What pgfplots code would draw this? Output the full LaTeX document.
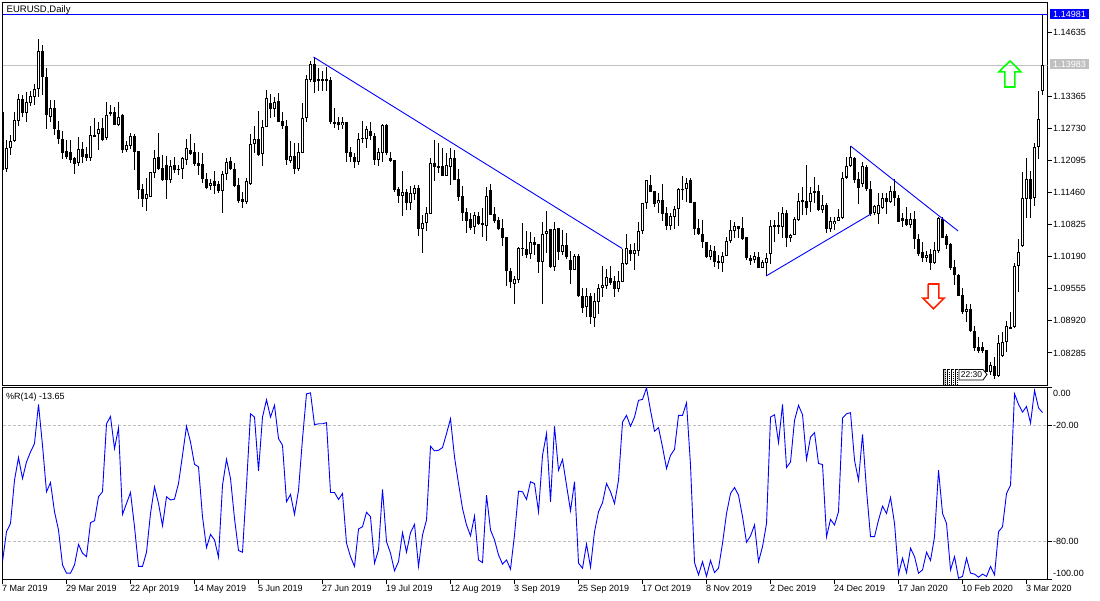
\documentclass[border=0pt]{standalone}
\usepackage{fontspec}
\setmainfont{Liberation Sans}
\usepackage{pgfplots}
\usepackage{pgfplotstable}
\pgfplotsset{compat=1.18}

\definecolor{mtblue}{RGB}{0,0,255}
\definecolor{mtgray}{RGB}{192,192,192}
\definecolor{mtgreen}{RGB}{0,255,0}
\definecolor{mtred}{RGB}{255,32,0}

% daily candles
\pgfplotstableread{
i o h l c
0 1.1306 1.1306 1.1191 1.1191
1 1.1193 1.1250 1.1186 1.1234
2 1.1235 1.1260 1.1221 1.1249
3 1.1248 1.1305 1.1247 1.1290
4 1.1288 1.1341 1.1277 1.1331
5 1.1331 1.1339 1.1296 1.1303
6 1.1303 1.1346 1.1285 1.1325
7 1.1324 1.1347 1.1318 1.1337
8 1.1336 1.1362 1.1320 1.1351
9 1.1351 1.1450 1.1336 1.1426
10 1.1426 1.1438 1.1339 1.1374
11 1.1374 1.1392 1.1272 1.1300
12 1.1295 1.1329 1.1285 1.1313
13 1.1313 1.1329 1.1261 1.1271
14 1.1271 1.1288 1.1242 1.1252
15 1.1252 1.1267 1.1212 1.1225
16 1.1228 1.1250 1.1212 1.1217
17 1.1226 1.1250 1.1204 1.1211
18 1.1214 1.1217 1.1183 1.1203
19 1.1204 1.1256 1.1199 1.1232
20 1.1232 1.1247 1.1204 1.1217
21 1.1223 1.1237 1.1209 1.1215
22 1.1214 1.1277 1.1209 1.1261
23 1.1261 1.1293 1.1256 1.1257
24 1.1263 1.1286 1.1230 1.1273
25 1.1275 1.1293 1.1248 1.1250
26 1.1255 1.1325 1.1250 1.1299
27 1.1305 1.1320 1.1298 1.1302
28 1.1305 1.1315 1.1280 1.1280
29 1.1280 1.1325 1.1278 1.1295
30 1.1300 1.1301 1.1225 1.1230
31 1.1230 1.1248 1.1227 1.1240
32 1.1239 1.1265 1.1232 1.1258
33 1.1259 1.1263 1.1191 1.1227
34 1.1228 1.1228 1.1133 1.1151
35 1.1153 1.1163 1.1118 1.1133
36 1.1133 1.1176 1.1110 1.1143
37 1.1138 1.1186 1.1138 1.1186
38 1.1184 1.1230 1.1174 1.1214
39 1.1216 1.1265 1.1191 1.1193
40 1.1194 1.1221 1.1170 1.1171
41 1.1201 1.1219 1.1133 1.1171
42 1.1171 1.1211 1.1166 1.1199
43 1.1200 1.1217 1.1184 1.1191
44 1.1192 1.1201 1.1181 1.1192
45 1.1192 1.1217 1.1173 1.1214
46 1.1211 1.1252 1.1201 1.1234
47 1.1230 1.1263 1.1221 1.1222
48 1.1226 1.1244 1.1199 1.1203
49 1.1204 1.1226 1.1181 1.1199
50 1.1203 1.1224 1.1166 1.1174
51 1.1173 1.1184 1.1153 1.1156
52 1.1160 1.1174 1.1151 1.1166
53 1.1168 1.1189 1.1143 1.1160
54 1.1163 1.1168 1.1145 1.1150
55 1.1150 1.1189 1.1106 1.1182
56 1.1182 1.1214 1.1171 1.1206
57 1.1209 1.1216 1.1191 1.1192
58 1.1193 1.1204 1.1157 1.1160
59 1.1161 1.1176 1.1125 1.1130
60 1.1133 1.1148 1.1116 1.1128
61 1.1128 1.1176 1.1124 1.1169
62 1.1164 1.1263 1.1161 1.1242
63 1.1242 1.1278 1.1225 1.1252
64 1.1252 1.1308 1.1219 1.1221
65 1.1222 1.1290 1.1199 1.1275
66 1.1275 1.1349 1.1275 1.1333
67 1.1323 1.1341 1.1293 1.1312
68 1.1312 1.1336 1.1296 1.1326
69 1.1327 1.1343 1.1285 1.1286
70 1.1288 1.1305 1.1273 1.1277
71 1.1278 1.1290 1.1201 1.1211
72 1.1209 1.1248 1.1204 1.1219
73 1.1219 1.1244 1.1182 1.1193
74 1.1193 1.1244 1.1188 1.1226
75 1.1225 1.1323 1.1225 1.1293
76 1.1293 1.1378 1.1285 1.1371
77 1.1369 1.1407 1.1364 1.1400
78 1.1401 1.1414 1.1344 1.1366
79 1.1370 1.1392 1.1348 1.1369
80 1.1370 1.1386 1.1348 1.1369
81 1.1370 1.1395 1.1348 1.1369
82 1.1369 1.1374 1.1281 1.1285
83 1.1286 1.1314 1.1273 1.1283
84 1.1285 1.1296 1.1269 1.1279
85 1.1279 1.1296 1.1272 1.1285
86 1.1286 1.1286 1.1207 1.1225
87 1.1226 1.1237 1.1207 1.1216
88 1.1216 1.1224 1.1194 1.1207
89 1.1207 1.1265 1.1201 1.1252
90 1.1255 1.1288 1.1244 1.1252
91 1.1253 1.1277 1.1234 1.1272
92 1.1267 1.1285 1.1250 1.1259
93 1.1259 1.1265 1.1201 1.1211
94 1.1211 1.1234 1.1199 1.1226
95 1.1224 1.1282 1.1206 1.1279
96 1.1279 1.1282 1.1221 1.1225
97 1.1214 1.1226 1.1206 1.1209
98 1.1211 1.1211 1.1148 1.1151
99 1.1153 1.1157 1.1125 1.1140
100 1.1140 1.1189 1.1100 1.1147
101 1.1147 1.1153 1.1112 1.1126
102 1.1126 1.1159 1.1112 1.1145
103 1.1143 1.1162 1.1131 1.1155
104 1.1155 1.1162 1.1060 1.1074
105 1.1075 1.1102 1.1027 1.1085
106 1.1085 1.1117 1.1069 1.1105
107 1.1103 1.1214 1.1103 1.1204
108 1.1204 1.1250 1.1168 1.1197
109 1.1198 1.1244 1.1184 1.1197
110 1.1198 1.1234 1.1178 1.1179
111 1.1179 1.1224 1.1179 1.1200
112 1.1197 1.1234 1.1162 1.1214
113 1.1214 1.1230 1.1170 1.1171
114 1.1172 1.1192 1.1130 1.1138
115 1.1139 1.1159 1.1090 1.1106
116 1.1107 1.1115 1.1067 1.1089
117 1.1094 1.1105 1.1072 1.1077
118 1.1077 1.1108 1.1064 1.1102
119 1.1100 1.1108 1.1082 1.1084
120 1.1085 1.1115 1.1058 1.1081
121 1.1079 1.1157 1.1051 1.1139
122 1.1151 1.1164 1.1102 1.1102
123 1.1103 1.1118 1.1085 1.1090
124 1.1092 1.1098 1.1072 1.1075
125 1.1077 1.1093 1.1041 1.1057
126 1.1058 1.1058 1.0962 1.0990
127 1.0991 1.0997 1.0958 1.0970
128 1.0966 1.0980 1.0925 1.0975
129 1.0973 1.1039 1.0968 1.1036
130 1.1036 1.1085 1.1021 1.1035
131 1.1034 1.1069 1.1016 1.1023
132 1.1025 1.1069 1.1015 1.1048
133 1.1048 1.1059 1.1023 1.1042
134 1.1044 1.1044 1.0986 1.1009
135 1.1009 1.1087 1.0925 1.1065
136 1.1065 1.1110 1.1026 1.1070
137 1.1074 1.1074 1.0996 1.0999
138 1.0999 1.1088 1.0990 1.1074
139 1.1075 1.1075 1.1013 1.1029
140 1.1029 1.1072 1.1023 1.1042
141 1.1042 1.1067 1.1015 1.1019
142 1.1013 1.1031 1.0966 1.0992
143 1.0992 1.1025 1.0992 1.1021
144 1.1021 1.1025 1.0940 1.0942
145 1.0942 1.0958 1.0908 1.0918
146 1.0920 1.0958 1.0900 1.0941
147 1.0941 1.0947 1.0885 1.0899
148 1.0898 1.0947 1.0879 1.0931
149 1.0930 1.0966 1.0906 1.0958
150 1.0958 1.1001 1.0940 1.0963
151 1.0962 1.0994 1.0956 1.0978
152 1.0978 1.1001 1.0963 1.0968
153 1.0971 1.0980 1.0940 1.0955
154 1.0955 1.0991 1.0950 1.0971
155 1.0970 1.1034 1.0970 1.1006
156 1.1005 1.1064 1.1003 1.1036
157 1.1032 1.1044 1.1011 1.1025
158 1.1025 1.1046 1.0992 1.1032
159 1.1031 1.1087 1.1021 1.1071
160 1.1071 1.1126 1.1064 1.1125
161 1.1125 1.1171 1.1114 1.1170
162 1.1161 1.1181 1.1147 1.1148
163 1.1149 1.1149 1.1118 1.1124
164 1.1125 1.1145 1.1105 1.1131
165 1.1131 1.1163 1.1089 1.1104
166 1.1105 1.1118 1.1072 1.1079
167 1.1079 1.1105 1.1072 1.1100
168 1.1098 1.1120 1.1075 1.1113
169 1.1113 1.1155 1.1080 1.1153
170 1.1153 1.1178 1.1131 1.1152
171 1.1153 1.1174 1.1128 1.1166
172 1.1171 1.1176 1.1125 1.1126
173 1.1127 1.1127 1.1062 1.1074
174 1.1075 1.1093 1.1062 1.1065
175 1.1065 1.1092 1.1036 1.1049
176 1.1049 1.1049 1.1016 1.1018
177 1.1018 1.1042 1.1013 1.1032
178 1.1031 1.1041 1.0999 1.1008
179 1.1011 1.1023 1.0994 1.1006
180 1.1006 1.1028 1.0988 1.1021
181 1.1021 1.1058 1.1020 1.1051
182 1.1051 1.1092 1.1047 1.1072
183 1.1071 1.1088 1.1056 1.1080
184 1.1079 1.1080 1.1057 1.1074
185 1.1075 1.1097 1.1052 1.1054
186 1.1058 1.1058 1.1013 1.1016
187 1.1016 1.1023 1.1003 1.1011
188 1.1013 1.1028 1.1006 1.1020
189 1.1019 1.1029 1.0996 1.0997
190 1.0997 1.1013 1.0996 1.1008
191 1.1007 1.1027 1.0981 1.1016
192 1.1024 1.1092 1.1004 1.1079
193 1.1081 1.1092 1.1049 1.1079
194 1.1081 1.1108 1.1065 1.1077
195 1.1077 1.1118 1.1057 1.1105
196 1.1105 1.1112 1.1039 1.1057
197 1.1057 1.1065 1.1049 1.1063
198 1.1062 1.1097 1.1062 1.1094
199 1.1092 1.1145 1.1090 1.1130
200 1.1130 1.1157 1.1102 1.1130
201 1.1130 1.1201 1.1102 1.1116
202 1.1127 1.1158 1.1108 1.1145
203 1.1145 1.1176 1.1126 1.1149
204 1.1149 1.1161 1.1110 1.1112
205 1.1112 1.1141 1.1105 1.1121
206 1.1122 1.1125 1.1067 1.1074
207 1.1074 1.1097 1.1069 1.1089
208 1.1083 1.1098 1.1072 1.1090
209 1.1090 1.1114 1.1090 1.1097
210 1.1096 1.1186 1.1093 1.1176
211 1.1176 1.1217 1.1172 1.1199
212 1.1199 1.1239 1.1197 1.1217
213 1.1215 1.1217 1.1166 1.1171
214 1.1172 1.1187 1.1124 1.1156
215 1.1164 1.1206 1.1158 1.1199
216 1.1197 1.1201 1.1150 1.1154
217 1.1154 1.1169 1.1100 1.1103
218 1.1105 1.1121 1.1102 1.1120
219 1.1103 1.1145 1.1084 1.1121
220 1.1115 1.1146 1.1113 1.1135
221 1.1135 1.1145 1.1103 1.1127
222 1.1128 1.1159 1.1126 1.1150
223 1.1150 1.1172 1.1120 1.1135
224 1.1136 1.1141 1.1087 1.1087
225 1.1096 1.1105 1.1077 1.1090
226 1.1094 1.1118 1.1079 1.1081
227 1.1081 1.1105 1.1075 1.1094
228 1.1093 1.1110 1.1034 1.1054
229 1.1055 1.1064 1.1020 1.1024
230 1.1029 1.1048 1.1009 1.1017
231 1.1017 1.1031 1.1009 1.1023
232 1.1024 1.1034 1.0992 1.1007
233 1.1007 1.1049 1.1004 1.1032
234 1.1031 1.1098 1.1026 1.1096
235 1.1093 1.1097 1.1056 1.1057
236 1.1060 1.1064 1.1034 1.1042
237 1.1044 1.1046 1.0993 1.0996
238 1.0998 1.1013 1.0963 1.0982
239 1.0983 1.0984 1.0942 1.0942
240 1.0943 1.0958 1.0906 1.0910
241 1.0910 1.0925 1.0889 1.0916
242 1.0915 1.0925 1.0871 1.0873
243 1.0872 1.0881 1.0833 1.0838
244 1.0841 1.0861 1.0829 1.0832
245 1.0840 1.0851 1.0828 1.0832
246 1.0834 1.0834 1.0790 1.0790
247 1.0790 1.0811 1.0785 1.0805
248 1.0803 1.0821 1.0776 1.0783
249 1.0783 1.0864 1.0782 1.0848
250 1.0823 1.0871 1.0821 1.0850
251 1.0851 1.0891 1.0831 1.0881
252 1.0877 1.0909 1.0876 1.0881
253 1.0879 1.1006 1.0877 1.1001
254 1.1000 1.1054 1.0950 1.1029
255 1.1041 1.1186 1.1039 1.1135
256 1.1133 1.1214 1.1095 1.1172
257 1.1172 1.1188 1.1095 1.1133
258 1.1135 1.1245 1.1120 1.1237
259 1.1237 1.1348 1.1212 1.1292
260 1.1348 1.14981 1.1339 1.13983
}\candles

\begin{document}
\begin{tikzpicture}[x=1pt,y=1pt]
\path[use as bounding box] (0,0) rectangle (1100,600);

\pgfplotsset{
  panel/.style={
    anchor=south west,
    scale only axis,
    width=1045pt,
    xmin=0, xmax=261.25,
    axis line style={line width=1pt,black},
    tick style={line width=1pt,black},
    tick align=outside,
    major tick length=4.5pt,
    ytick pos=right,
    yticklabel pos=right,
    yticklabel style={anchor=west,inner sep=0pt,xshift=1pt,font=\fontsize{9}{10}\selectfont},
  },
}

\begin{axis}[
  panel,
  at={(2.5pt,214.5pt)},
  height=383pt,
  ymin=1.07641, ymax=1.15224,
  xtick=\empty,
  ytick={1.14635,1.13365,1.1273,1.12095,1.1146,1.10825,1.1019,1.09555,1.0892,1.08285},
  yticklabels={1.14635,1.13365,1.12730,1.12095,1.11460,1.10825,1.10190,1.09555,1.08920,1.08285},
]
\addplot[mtgray,line width=1pt] coordinates {(0,1.13983) (261.25,1.13983)};
% wicks
\addplot[draw=none,mark=none,error bars/.cd,y dir=both,y explicit,error mark=none,
  error bar style={draw=black,solid,line width=1pt}]
  table[x=i,y expr={(\thisrow{h}+\thisrow{l})/2},y error expr={(\thisrow{h}-\thisrow{l})/2}] {\candles};
% bodies
\addplot[draw=none,mark=none,error bars/.cd,y dir=both,y explicit,error mark=none,
  error bar style={draw=black,solid,line width=3pt}]
  table[x=i,y expr={(\thisrow{o}+\thisrow{c})/2},y error expr={max(abs(\thisrow{o}-\thisrow{c})/2,0.0001)}] {\candles};
% hollow inside of the up candles
\addplot[draw=none,mark=none,error bars/.cd,y dir=both,y explicit,error mark=none,
  error bar style={draw=white,solid,line width=1pt}]
  table[x=i,y expr={(\thisrow{o}+\thisrow{c})/2},y error expr={ifthenelse(\thisrow{c}>\thisrow{o},max((\thisrow{c}-\thisrow{o})/2-0.0002,0),0)}] {\candles};
\addplot[mtblue,line width=1pt] coordinates {(0,1.14981) (261.25,1.14981)};
% trend lines
\addplot[mtblue,line width=0.9pt] coordinates {(77.75,1.14145) (154.9,1.10354)};
\addplot[mtblue,line width=0.9pt] coordinates {(212,1.12383) (238.9,1.10700)};
\addplot[mtblue,line width=0.9pt] coordinates {(190.9,1.09809) (217.1,1.11037)};
% signal arrows
\addplot[mtgreen,line width=1.6pt,miter limit=8] coordinates {(251.9,1.1407) (254.6,1.1385) (253.1,1.1385) (253.1,1.1355) (250.6,1.1355) (250.6,1.1385) (249.1,1.1385) (251.9,1.1407)};
\addplot[mtred,line width=1.6pt,miter limit=8] coordinates {(231.4,1.0965) (234.1,1.0965) (234.1,1.0937) (235.4,1.0937) (232.75,1.0916) (230.1,1.0937) (231.4,1.0937) (231.4,1.0965)};
\end{axis}

\begin{axis}[
  panel,
  at={(2.5pt,20.5pt)},
  height=192pt,
  ymin=-100, ymax=0,
  xtick={0,16,...,256},
  xticklabels={7 Mar 2019,29 Mar 2019,22 Apr 2019,14 May 2019,5 Jun 2019,27 Jun 2019,19 Jul 2019,12 Aug 2019,3 Sep 2019,25 Sep 2019,17 Oct 2019,8 Nov 2019,2 Dec 2019,24 Dec 2019,17 Jan 2020,10 Feb 2020,3 Mar 2020},
  xtick pos=bottom,
  xticklabel style={anchor=north west,inner sep=0pt,text height=7pt,text depth=0pt,xshift=-0.5pt,yshift=-0.5pt,font=\fontsize{9}{10}\selectfont},
  ytick={0,-20,-80,-100},
  yticklabels={\smash{\raisebox{-8.7pt}{0.00}},-20.00,-80.00,\smash{\raisebox{2.8pt}{-100.00}}},
]
\addplot[mtgray,line width=1pt,dash pattern=on 3pt off 2pt] coordinates {(0,-20) (261.25,-20)};
\addplot[mtgray,line width=1pt,dash pattern=on 3pt off 2pt] coordinates {(0,-80) (261.25,-80)};
\addplot[mtblue,line width=0.9pt] coordinates {
(0,-90.7) (1,-75.1) (2,-70.8) (3,-48.3) (4,-36.5) (5,-47.4) (6,-38.8) (7,-33.6) (8,-29.2) (9,-8.8)
(10,-30.1) (11,-54.3) (12,-49.5) (13,-64.7) (14,-74.2) (15,-92.4) (16,-96.7) (17,-96.7) (18,-92.4) (19,-81.7)
(20,-86.3) (21,-88.1) (22,-70.4) (23,-69.4) (24,-56.9) (25,-54.3) (26,-18.9) (27,-15.1) (28,-31.8) (29,-21.1)
(30,-66.1) (31,-60.4) (32,-54.7) (33,-72.5) (34,-93.2) (35,-93.2) (36,-85.8) (37,-65.6) (38,-51.7) (39,-60.4)
(40,-72.0) (41,-56.9) (42,-58.6) (43,-58.1) (44,-50.0) (45,-35.3) (46,-20.2) (47,-28.4) (48,-40.0) (49,-41.3)
(50,-67.3) (51,-83.4) (52,-76.5) (53,-79.4) (54,-88.4) (55,-50.9) (56,-37.4) (57,-47.4) (58,-68.2) (59,-84.9)
(60,-85.8) (61,-50.9) (62,-13.7) (63,-15.4) (64,-43.4) (65,-15.4) (66,-6.4) (67,-15.4) (68,-9.3) (69,-26.6)
(70,-30.1) (71,-59.5) (72,-55.7) (73,-66.1) (74,-53.5) (75,-26.6) (76,-3.3) (77,-2.8) (78,-19.4) (79,-18.9)
(80,-18.9) (81,-18.3) (82,-54.7) (83,-54.7) (84,-58.3) (85,-55.2) (86,-81.1) (87,-88.1) (88,-93.2) (89,-73.7)
(90,-72.5) (91,-65.0) (92,-67.3) (93,-91.5) (94,-84.6) (95,-53.1) (96,-80.3) (97,-86.3) (98,-95.5) (99,-90.7)
(100,-75.6) (101,-85.8) (102,-75.6) (103,-71.3) (104,-93.2) (105,-76.8) (106,-69.0) (107,-30.6) (108,-33.0) (109,-32.7)
(110,-31.3) (111,-24.0) (112,-16.3) (113,-36.2) (114,-50.0) (115,-63.0) (116,-71.6) (117,-77.2) (118,-67.0) (119,-89.8)
(120,-91.2) (121,-56.1) (122,-74.2) (123,-79.4) (124,-87.2) (125,-92.0) (126,-89.8) (127,-94.6) (128,-76.8) (129,-54.0)
(130,-54.3) (131,-58.3) (132,-49.1) (133,-50.0) (134,-64.7) (135,-35.3) (136,-24.0) (137,-59.5) (138,-20.2) (139,-43.1)
(140,-37.5) (141,-50.9) (142,-64.2) (143,-49.1) (144,-91.5) (145,-94.1) (146,-81.5) (147,-93.6) (148,-75.1) (149,-64.7)
(150,-60.0) (151,-50.0) (152,-54.3) (153,-60.4) (154,-48.3) (155,-18.0) (156,-14.5) (157,-20.2) (158,-15.4) (159,-6.7)
(160,-6.2) (161,-0.2) (162,-11.9) (163,-22.8) (164,-20.9) (165,-31.0) (166,-42.2) (167,-35.3) (168,-32.2) (169,-14.5)
(170,-14.5) (171,-8.0) (172,-40.5) (173,-91.2) (174,-97.6) (175,-90.7) (176,-98.4) (177,-90.1) (178,-96.4) (179,-94.1)
(180,-81.1) (181,-65.6) (182,-55.2) (183,-52.1) (184,-56.1) (185,-67.3) (186,-80.6) (187,-77.3) (188,-71.6) (189,-90.7)
(190,-82.9) (191,-70.8) (192,-15.4) (193,-14.2) (194,-28.7) (195,-8.8) (196,-41.7) (197,-38.8) (198,-17.1) (199,-9.3)
(200,-14.2) (201,-37.5) (202,-25.8) (203,-23.5) (204,-39.6) (205,-40.1) (206,-77.7) (207,-68.7) (208,-71.6) (209,-64.7)
(210,-15.9) (211,-13.7) (212,-13.1) (213,-37.9) (214,-48.3) (215,-24.4) (216,-53.5) (217,-77.7) (218,-77.7) (219,-69.0)
(220,-61.8) (221,-65.6) (222,-57.3) (223,-70.8) (224,-97.2) (225,-88.9) (226,-96.4) (227,-83.7) (228,-88.1) (229,-96.7)
(230,-95.0) (231,-85.8) (232,-90.1) (233,-77.7) (234,-43.1) (235,-65.6) (236,-70.8) (237,-95.0) (238,-88.1) (239,-99.3)
(240,-98.4) (241,-88.9) (242,-96.7) (243,-97.2) (244,-98.8) (245,-97.2) (246,-98.4) (247,-93.2) (248,-97.6) (249,-75.1)
(250,-72.5) (251,-55.2) (252,-50.9) (253,-3.3) (254,-8.8) (255,-12.8) (256,-9.9) (257,-18.5) (258,-1.6) (259,-10.6)
(260,-13.1)
};
\end{axis}

% chart captions and price tags
\node[anchor=base west,inner sep=0pt,font=\fontsize{9.5}{10}\selectfont] at (6.5,587) {EURUSD,Daily};
\node[anchor=base west,inner sep=0pt,font=\fontsize{9}{10}\selectfont] at (6,200.5) {\%R(14) -13.65};
\node[fill=mtblue,text=white,inner sep=0pt,minimum width=39pt,minimum height=10pt,font=\fontsize{9}{10}\selectfont] at (1069.5,585.5) {1.14981};
\node[fill=mtgray,text=white,inner sep=0pt,minimum width=39pt,minimum height=10pt,font=\fontsize{9}{10}\selectfont] at (1069.5,535.8) {1.13983};

% terminal's bar-time flag at the foot of the price panel
\fill[mtgray] (943,215) rectangle (946,230.5);
\foreach \px in {943,947,951,955}{
  \draw[black,line width=0.8pt] (\px,215) -- (\px,230.5) -- (\px+3,230.5);
  \draw[black,line width=0.8pt,dash pattern=on 1pt off 1pt] (\px+2.2,215) -- (\px+2.2,228);
}
\draw[black,line width=0.8pt,fill=white] (959,230.5) -- (983,230.5) -- (987,225.5) -- (983,220) -- (959,220) -- cycle;
\node[inner sep=0pt,font=\fontsize{8.5}{10}\selectfont] at (971.5,225.2) {22:30};
\end{tikzpicture}
\end{document}
